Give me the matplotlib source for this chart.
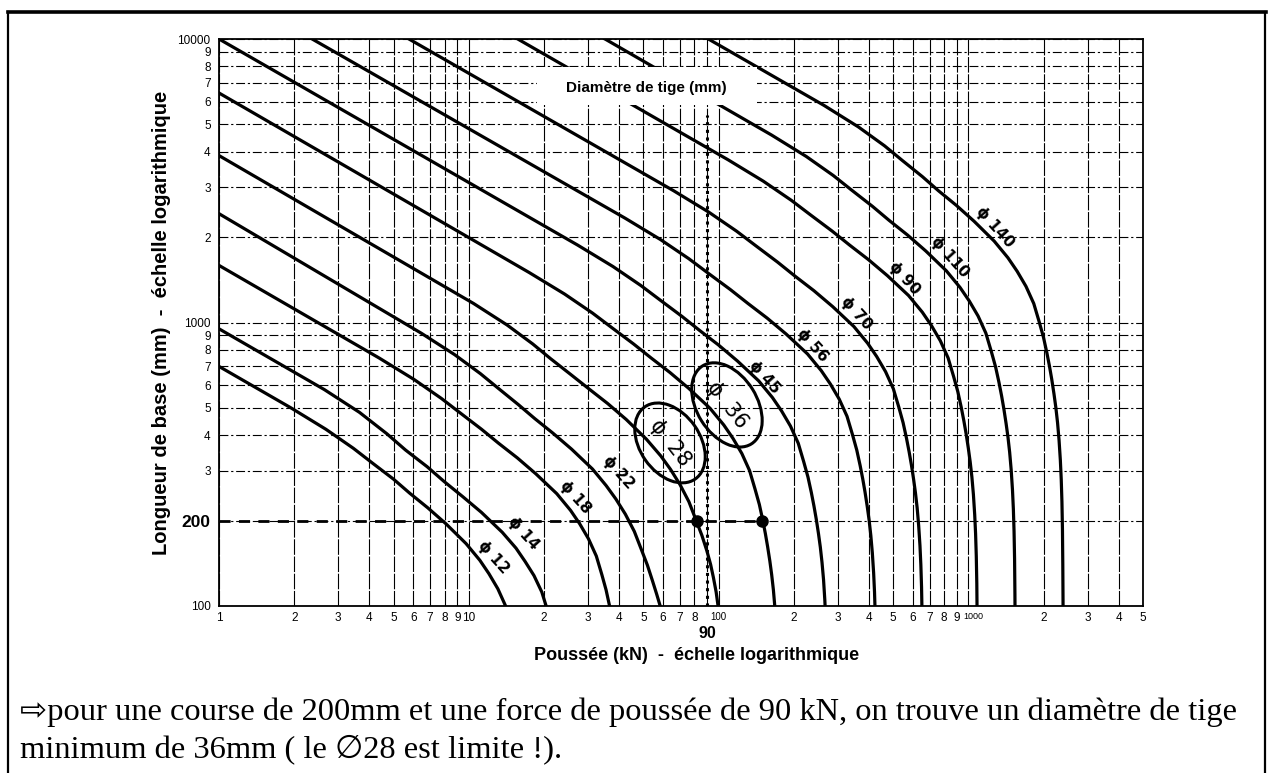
import matplotlib
matplotlib.use("Agg")
import matplotlib.pyplot as plt
from matplotlib.patches import Ellipse, Rectangle
from matplotlib.transforms import ScaledTranslation
from matplotlib.lines import Line2D

d12_force = [1, 1.94, 2.68, 3.45, 4.1, 5.0, 5.8, 6.85, 8.1, 9.75, 11.07, 12.04, 13.07, 14.04, 14.77]
d12_length = [700, 500, 420, 360, 320, 280, 250, 222, 195, 166, 145, 130, 115, 100, 86]
d14_force = [1, 2.64, 3.65, 4.70, 5.58, 6.81, 7.96, 9.46, 11.23, 13.61, 15.45, 16.81, 18.24, 19.60,
             20.62, 21.44, 22.12]
d14_length = [950, 580, 482, 405, 355, 310, 275, 243, 214, 182, 160, 143.5, 128, 112,
              97, 86, 76]
d18_force = [1, 4.37, 6.03, 7.76, 9.23, 11.25, 13.16, 15.64, 18.56, 22.5, 25.54, 27.79, 30.15, 32.4,
             34.09, 35.44, 36.56, 37.46, 38.25]
d18_length = [1590, 750, 630, 540, 480, 420, 375, 333, 292.5, 249, 217.5, 195, 172.5, 150,
              129, 114, 100.5, 90, 81]
d22_force = [1, 6.45, 8.78, 11.13, 13.09, 15.80, 18.38, 21.72, 25.79, 31.26, 35.48, 38.81, 42.34, 45.98,
             49.14, 51.88, 54.35, 56.52, 58.57, 60.35]
d22_length = [2420, 917, 770, 660, 587, 513, 458, 407, 357.5, 304.3, 265.8, 238.3, 210.8, 183.3,
              157.7, 139.3, 122.8, 110, 99, 88]
d28_force = [1, 10.45, 14.23, 18.03, 21.2, 25.72, 30.26, 35.95, 42.67, 51.45, 58.70, 64.21, 70.03, 76.05,
             81.24, 85.75, 89.80, 92.92, 95.33, 97.77, 99.46, 101.0]
d28_length = [3880, 1167, 980, 840, 746.7, 653.3, 583.3, 518, 455, 387.3, 338.3, 303.3, 268.3, 233.3,
              200.7, 177.3, 156.3, 140, 126, 112, 100.3, 88.7]
d36_force = [1, 17.46, 24.18, 31.26, 37.31, 45.67, 53.65, 63.9, 76.05, 92.43, 104.9, 114.2, 123.9, 133.1,
             140.0, 145.6, 150.2, 153.9, 157.1, 160.4, 163.1, 165.7, 168.0, 170.1]
d36_length = [6450, 1500, 1260, 1080, 960, 840, 750, 666, 585, 498, 435, 390, 345, 300,
              258, 228, 201, 180, 162, 144, 129, 114, 99, 84]
d45_force = [1, 27.28, 37.8, 48.86, 58.33, 71.43, 83.94, 100.0, 119.0, 144.7, 164.2, 178.7, 193.9, 208.4,
             219.2, 227.9, 235.1, 240.9, 246.0, 251.1, 255.4, 259.4, 263.1, 266.2, 268.4, 270.2]
d45_length = [10000, 1875, 1575, 1350, 1200, 1050, 937.5, 832.5, 731.3, 622.5, 543.8, 487.5, 431.3, 375,
              322.5, 285, 251.3, 225, 202.5, 180, 161.3, 142.5, 123.8, 105, 90, 75]
d56_force = [2.36, 42.25, 58.6, 75.92, 90.79, 111.4, 131.1, 156.5, 186.5, 226.9, 257.5, 280.2, 304.0,
             326.7, 343.8, 357.4, 368.7, 377.8, 385.7, 393.7, 400.5, 406.8, 412.5, 417.5, 420.9,
             423.6, 425.7]
d56_length = [10000, 2333, 1960, 1680, 1493, 1307, 1167, 1036, 910, 774.7, 676.7, 606.7, 536.7,
              466.7, 401.3, 354.7, 312.7, 280, 252, 224, 200.7, 177.3, 154, 130.7, 112,
              93.3, 74.7]
d70_force = [5.76, 66.01, 91.37, 118.0, 140.7, 172.2, 202.1, 240.7, 286.3, 347.8, 394.7, 429.5, 466.0,
             500.8, 526.9, 547.7, 565.1, 579.0, 591.2, 603.4, 613.8, 623.6, 632.2, 639.9, 645.1,
             649.3, 652.4, 654.5]
d70_length = [10000, 2917, 2450, 2100, 1867, 1633, 1458, 1295, 1137.5, 968.3, 845.8, 758.3, 670.8,
              583.3, 501.7, 443.3, 390.8, 350, 315, 280, 250.8, 221.7, 192.5, 163.3, 140,
              116.7, 93.3, 70]
d90_force = [15.7, 109.1, 151.1, 195.2, 232.8, 285.0, 334.6, 398.4, 474.1, 576, 653.8, 711.4, 771.8,
             829.4, 872.6, 907.2, 936, 959, 979.2, 999.4, 1016.6, 1032.8, 1047.2, 1059.8, 1068.5,
             1075.4, 1080.6, 1084.0]
d90_length = [10000, 3750, 3150, 2700, 2400, 2100, 1875, 1665, 1462.5, 1245, 1087.5, 975, 862.5,
              750, 645, 570, 502.5, 450, 405, 360, 322.5, 285, 247.5, 210, 180,
              150, 120, 90]
d110_force = [35.1, 163.0, 224.5, 287.8, 340.5, 413.4, 481.6, 570.5, 675.1, 815.9, 926.0, 1007.6, 1093.3,
              1174.9, 1236.1, 1285.0, 1325.8, 1358.5, 1387.0, 1415.6, 1440.1, 1462.9, 1483.3, 1501.3,
              1513.5, 1523.3, 1530.6, 1535.5, 1538.8]
d110_length = [10000, 4583, 3850, 3300, 2933, 2567, 2292, 2035, 1787.5, 1521.7, 1329, 1191.7, 1054.2,
               916.7, 788.3, 696.7, 614.2, 550, 495, 440, 394.2, 348.3, 302.5, 256.7,
               220, 183.3, 146.7, 110, 82.5]
d140_force = [91, 264.1, 362.3, 461.6, 542.9, 655.1, 758.3, 894.5, 1054.2, 1268.5, 1439.7, 1566.6, 1699.8,
              1826.6, 1921.8, 1997.9, 2061.3, 2112.1, 2156.5, 2200.8, 2238.9, 2274.4, 2306.1, 2334.0,
              2353.1, 2368.3, 2379.7, 2387.3, 2392.4, 2395.0]
d140_length = [10000, 5833, 4900, 4200, 3733, 3267, 2917, 2590, 2275, 1936.7, 1691.7, 1516.7, 1341.7,
               1166.7, 1003.3, 886.7, 781.7, 700, 630, 560, 501.7, 443.3, 385, 326.7,
               280, 233.3, 186.7, 140, 105, 81.7]

# étiquettes des courbes (position force / longueur)
curve_labels = ["12", "14", "18", "22", "45", "56", "70", "90", "110", "140"]
label_force = [12.5, 16.5, 26.6, 39.6, 153, 237, 355, 557, 844, 1277]
label_length = [149, 181, 242, 297, 643, 834, 1080, 1436, 1703, 2172]
circled_labels = ["28", "36"]
circled_force = [63.9, 108]
circled_length = [376, 512]

# exemple : course 200 mm, poussée 90 kN
course = 200
poussee = 90
points_force = [82, 149]
points_length = [200, 200]

x_ticks = [1, 2, 3, 4, 5, 6, 7, 8, 9, 10, 20, 30, 40, 50, 60, 70, 80, 90, 100,
           200, 300, 400, 500, 600, 700, 800, 900, 1000, 2000, 3000, 4000, 5000]
x_labels = ["1", "2", "3", "4", "5", "6", "7", "8", "9", "10", "2", "3", "4", "5", "6", "7", "8", "", "100",
            "2", "3", "4", "5", "6", "7", "8", "9", "1000", "2", "3", "4", "5"]
y_ticks = [100, 200, 300, 400, 500, 600, 700, 800, 900, 1000,
           2000, 3000, 4000, 5000, 6000, 7000, 8000, 9000, 10000]
y_labels = ["100", "200", "3", "4", "5", "6", "7", "8", "9", "1000",
            "2", "3", "4", "5", "6", "7", "8", "9", "10000"]

plt.rcParams["font.family"] = ["Liberation Sans", "DejaVu Sans"]

fig = plt.figure(figsize=(12.74, 7.73), dpi=100)
ax = fig.add_axes([219 / 1274, 1 - 606 / 773, 924 / 1274, 567 / 773])
ax.set_xscale("log")
ax.set_yscale("log")
ax.set_xlim(1, 5000)
ax.set_ylim(100, 10000)

ax.set_xticks(x_ticks, x_labels)
ax.set_yticks(y_ticks, y_labels)
ax.minorticks_off()
ax.tick_params(length=0, labelsize=8.5)
ax.tick_params(axis="x", pad=4)
ax.tick_params(axis="y", pad=6)
for lab in ax.get_xticklabels():
    if lab.get_text() == "100":
        lab.set_fontsize(7)
    if lab.get_text() == "1000":
        lab.set_fontsize(6.5)
        lab.set_transform(lab.get_transform() + ScaledTranslation(5 / 100, 0, fig.dpi_scale_trans))
ax.get_yticklabels()[1].set_fontweight("bold")
ax.get_yticklabels()[1].set_fontsize(12.5)

ax.grid(True, axis="x", color="black", lw=0.8, ls=(0, (14, 1.5)))
ax.grid(True, axis="y", color="black", lw=0.8, ls=(0, (8, 2.5, 2, 2.5)))
for s in ax.spines.values():
    s.set_linewidth(1.3)

courbes = [(d12_force, d12_length), (d14_force, d14_length), (d18_force, d18_length),
           (d22_force, d22_length), (d28_force, d28_length), (d36_force, d36_length),
           (d45_force, d45_length), (d56_force, d56_length), (d70_force, d70_length),
           (d90_force, d90_length), (d110_force, d110_length), (d140_force, d140_length)]
for f, l in courbes:
    ax.plot(f, l, color="black", lw=2.3, solid_joinstyle="round", zorder=3)

# cadre blanc du titre interne
ax.add_patch(Rectangle((0.344, 0.8836), 0.238, 0.067, transform=ax.transAxes,
                       facecolor="white", edgecolor="none", zorder=4))
ax.text(0.462, 0.913, "Diamètre de tige (mm)", transform=ax.transAxes, ha="center", va="center",
        fontsize=11, fontweight="bold", zorder=5)

for t, f, l in zip(curve_labels, label_force, label_length):
    ax.text(f, l, "ϕ " + t, rotation=-48, ha="center", va="center", fontsize=11,
            fontweight="bold", family=["DejaVu Sans"], rotation_mode="anchor", zorder=5)
for t, f, l in zip(circled_labels, circled_force, circled_length):
    ax.text(f, l, "ϕ  " + t, rotation=-52, ha="center", va="center", fontsize=15,
            family=["DejaVu Sans"], rotation_mode="anchor", zorder=5)

ell_size = [(0.88, 0.60, -55), (0.92, 0.60, -58)]
ell_pos = [(63.9, 376), (108, 512)]
for (w, h, a), (f, l) in zip(ell_size, ell_pos):
    tr = fig.dpi_scale_trans + ScaledTranslation(f, l, ax.transData)
    ax.add_patch(Ellipse((0, 0), w, h, angle=a, transform=tr, fill=False,
                         edgecolor="black", lw=2.2, zorder=5))

# lecture de l'exemple
ax.plot([1, points_force[1]], [course, course], color="black", lw=2, ls=(0, (4, 3)), zorder=3)
ax.plot([poussee, poussee], [100, 5400], color="black", lw=2.2, ls=(0, (1, 1.5)), zorder=3)
ax.plot(points_force, points_length, "o", color="black", ms=8, zorder=6)
ax.text(poussee, -0.035, "90", transform=ax.get_xaxis_transform(), ha="center", va="top",
        fontsize=11.5, fontweight="bold")

ax.set_ylabel("Longueur de base (mm)  -  échelle logarithmique", fontsize=14.5, fontweight="bold",
              labelpad=5)
fig.text(697 / 1274, 1 - 655 / 773, "Poussée (kN)  -  échelle logarithmique", ha="center",
         va="center", fontsize=13, fontweight="bold")

# texte d'explication sous l'abaque
serif = ["Liberation Serif", "DejaVu Sans"]
fig.text(20 / 1274, 1 - 720 / 773,
         "⇨pour une course de 200mm et une force de poussée de 90 kN, on trouve un diamètre de tige",
         fontsize=23.4, family=serif, va="baseline")
fig.text(20 / 1274, 1 - 757 / 773, "minimum de 36mm ( le ∅28 est limite !).",
         fontsize=23.4, family=serif, va="baseline")

# cadre de la page
fig.add_artist(Line2D([8 / 1274, 1266 / 1274], [1 - 12 / 773, 1 - 12 / 773], color="black", lw=2.6))
fig.add_artist(Line2D([8 / 1274, 8 / 1274], [0, 1 - 12 / 773], color="black", lw=1.6))
fig.add_artist(Line2D([1265 / 1274, 1265 / 1274], [0, 1 - 12 / 773], color="black", lw=1.6))

fig.savefig("out.png", dpi=100)
